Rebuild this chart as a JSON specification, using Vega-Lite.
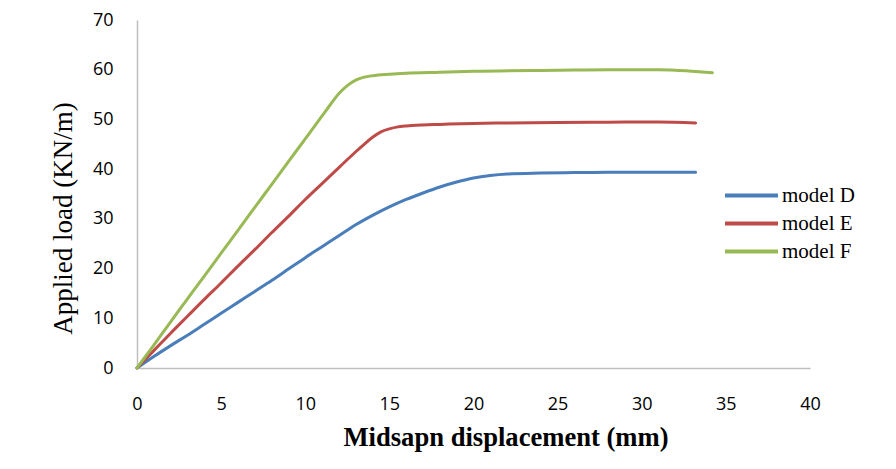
{
 "$schema": "https://vega.github.io/schema/vega-lite/v6.json",
 "width": 673,
 "height": 348,
 "autosize": {"type": "none"},
 "padding": {"left": 137, "top": 20, "right": 86, "bottom": 101},
 "background": "white",
 "config": {"view": {"stroke": null}},
 "data": {"values": [
  {"x": 0, "y": 0, "model": "model D"},
  {"x": 1, "y": 2.3, "model": "model D"},
  {"x": 2, "y": 4.5, "model": "model D"},
  {"x": 3, "y": 6.6, "model": "model D"},
  {"x": 4, "y": 8.8, "model": "model D"},
  {"x": 5, "y": 11.0, "model": "model D"},
  {"x": 6, "y": 13.2, "model": "model D"},
  {"x": 7, "y": 15.4, "model": "model D"},
  {"x": 8, "y": 17.6, "model": "model D"},
  {"x": 9, "y": 19.9, "model": "model D"},
  {"x": 10, "y": 22.2, "model": "model D"},
  {"x": 11, "y": 24.4, "model": "model D"},
  {"x": 12, "y": 26.6, "model": "model D"},
  {"x": 13, "y": 28.8, "model": "model D"},
  {"x": 14, "y": 30.7, "model": "model D"},
  {"x": 15, "y": 32.4, "model": "model D"},
  {"x": 16, "y": 33.9, "model": "model D"},
  {"x": 17, "y": 35.2, "model": "model D"},
  {"x": 18, "y": 36.4, "model": "model D"},
  {"x": 19, "y": 37.4, "model": "model D"},
  {"x": 20, "y": 38.2, "model": "model D"},
  {"x": 21, "y": 38.7, "model": "model D"},
  {"x": 22, "y": 39.0, "model": "model D"},
  {"x": 24, "y": 39.2, "model": "model D"},
  {"x": 26, "y": 39.3, "model": "model D"},
  {"x": 28, "y": 39.35, "model": "model D"},
  {"x": 30, "y": 39.4, "model": "model D"},
  {"x": 33.2, "y": 39.4, "model": "model D"},
  {"x": 0, "y": 0, "model": "model E"},
  {"x": 1, "y": 3.5, "model": "model E"},
  {"x": 2, "y": 7.0, "model": "model E"},
  {"x": 3, "y": 10.4, "model": "model E"},
  {"x": 4, "y": 13.8, "model": "model E"},
  {"x": 5, "y": 17.1, "model": "model E"},
  {"x": 6, "y": 20.5, "model": "model E"},
  {"x": 7, "y": 23.8, "model": "model E"},
  {"x": 8, "y": 27.2, "model": "model E"},
  {"x": 9, "y": 30.5, "model": "model E"},
  {"x": 10, "y": 33.9, "model": "model E"},
  {"x": 11, "y": 37.1, "model": "model E"},
  {"x": 12, "y": 40.3, "model": "model E"},
  {"x": 13, "y": 43.5, "model": "model E"},
  {"x": 13.5, "y": 45.0, "model": "model E"},
  {"x": 14, "y": 46.4, "model": "model E"},
  {"x": 14.5, "y": 47.5, "model": "model E"},
  {"x": 15, "y": 48.1, "model": "model E"},
  {"x": 15.5, "y": 48.5, "model": "model E"},
  {"x": 16, "y": 48.7, "model": "model E"},
  {"x": 17, "y": 48.9, "model": "model E"},
  {"x": 18, "y": 49.0, "model": "model E"},
  {"x": 20, "y": 49.2, "model": "model E"},
  {"x": 22, "y": 49.3, "model": "model E"},
  {"x": 25, "y": 49.4, "model": "model E"},
  {"x": 28, "y": 49.45, "model": "model E"},
  {"x": 31, "y": 49.5, "model": "model E"},
  {"x": 33.2, "y": 49.3, "model": "model E"},
  {"x": 0, "y": 0, "model": "model F"},
  {"x": 1, "y": 4.6, "model": "model F"},
  {"x": 2, "y": 9.3, "model": "model F"},
  {"x": 3, "y": 13.9, "model": "model F"},
  {"x": 4, "y": 18.5, "model": "model F"},
  {"x": 5, "y": 23.1, "model": "model F"},
  {"x": 6, "y": 27.7, "model": "model F"},
  {"x": 7, "y": 32.3, "model": "model F"},
  {"x": 8, "y": 36.9, "model": "model F"},
  {"x": 9, "y": 41.5, "model": "model F"},
  {"x": 10, "y": 46.1, "model": "model F"},
  {"x": 11, "y": 50.7, "model": "model F"},
  {"x": 11.5, "y": 53.0, "model": "model F"},
  {"x": 12, "y": 55.2, "model": "model F"},
  {"x": 12.5, "y": 56.8, "model": "model F"},
  {"x": 13, "y": 57.9, "model": "model F"},
  {"x": 13.5, "y": 58.5, "model": "model F"},
  {"x": 14, "y": 58.8, "model": "model F"},
  {"x": 15, "y": 59.1, "model": "model F"},
  {"x": 16, "y": 59.3, "model": "model F"},
  {"x": 18, "y": 59.5, "model": "model F"},
  {"x": 20, "y": 59.7, "model": "model F"},
  {"x": 25, "y": 59.9, "model": "model F"},
  {"x": 28, "y": 60.0, "model": "model F"},
  {"x": 31, "y": 60.0, "model": "model F"},
  {"x": 32, "y": 59.9, "model": "model F"},
  {"x": 33, "y": 59.7, "model": "model F"},
  {"x": 34.2, "y": 59.4, "model": "model F"}
 ]},
 "mark": {"type": "line", "strokeWidth": 3, "interpolate": "monotone", "strokeCap": "round"},
 "encoding": {
  "x": {
   "field": "x", "type": "quantitative",
   "scale": {"domain": [0, 40], "nice": false},
   "axis": {
    "title": "Midsapn displacement (mm)",
    "values": [0, 5, 10, 15, 20, 25, 30, 35, 40],
    "grid": false, "ticks": false, "tickSize": 0, "labelFlush": false,
    "domainColor": "#BFBFBF", "domainWidth": 1.5,
    "labelFont": "Open Sans", "labelFontSize": 18, "labelColor": "#000000",
    "labelPadding": 27,
    "titleFont": "Liberation Serif", "titleFontSize": 26.6, "titleFontWeight": "bold",
    "titleColor": "#000000", "titlePadding": 11, "titleX": 368.5
   }
  },
  "y": {
   "field": "y", "type": "quantitative",
   "scale": {"domain": [0, 70], "nice": false},
   "axis": {
    "title": "Applied load (KN/m)",
    "values": [0, 10, 20, 30, 40, 50, 60, 70],
    "grid": false, "ticks": false, "tickSize": 0, "labelFlush": false,
    "domainColor": "#BFBFBF", "domainWidth": 1.5,
    "labelFont": "Open Sans", "labelFontSize": 18, "labelColor": "#000000",
    "labelPadding": 24,
    "titleFont": "Liberation Serif", "titleFontSize": 27, "titleFontWeight": "normal",
    "titleColor": "#000000", "titlePadding": 15, "titleY": 198
   }
  },
  "color": {
   "field": "model", "type": "nominal",
   "scale": {"domain": ["model D", "model E", "model F"], "range": ["#4A7EBB", "#BE4B48", "#98B954"]},
   "legend": {
    "title": null,
    "orient": "none", "legendX": 604, "legendY": 165,
    "symbolType": "M-5.3,0H5.3", "symbolSize": 100, "symbolStrokeWidth": 4,
    "labelFont": "Liberation Serif", "labelFontSize": 21, "labelColor": "#000000",
    "labelOffset": 20, "rowPadding": 6
   }
  }
 }
}
